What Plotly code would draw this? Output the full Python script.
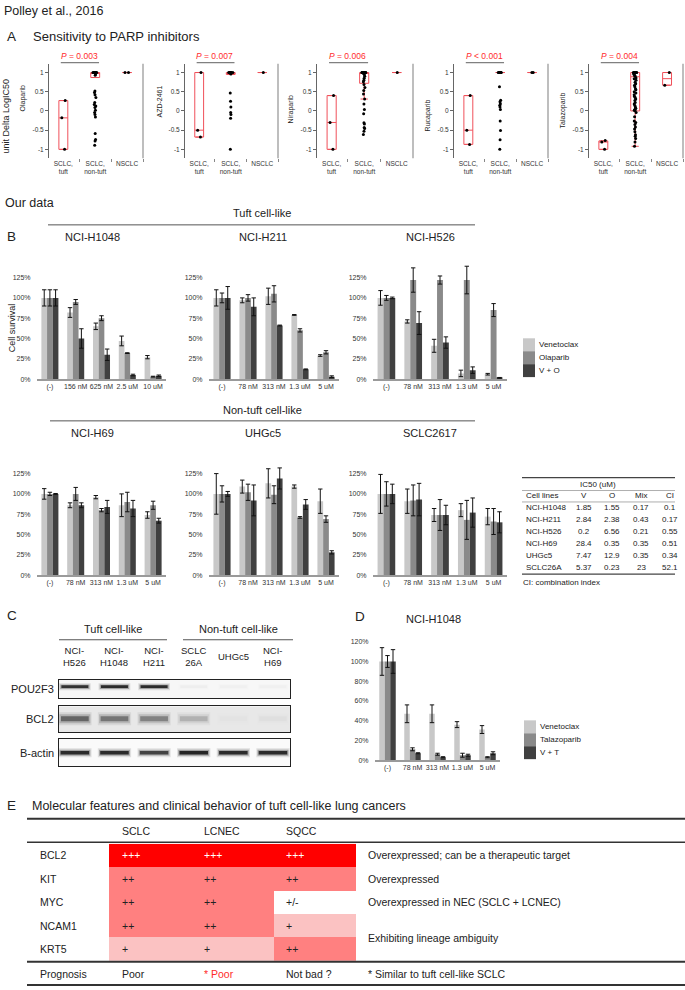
import plotly.graph_objects as go

W, H = 685, 990
FONT = "Liberation Sans, Arial, Helvetica, sans-serif"

# ======================= DATA =======================
# ---- Panel A (Polley et al., 2016): unit Delta LogIC50
a_groups = ["SCLC,<br>tuft", "SCLC,<br>non-tuft", "NSCLC"]
a_drugs = ["Olaparib", "AZD-2461", "Niraparib", "Rucaparib", "Talazoparib"]
a_pvalues = ["= 0.003", "= 0.007", "= 0.006", "< 0.001", "= 0.004"]
a_yticks = [-1, -0.5, 0, 0.5, 1]

olaparib_tuft = [0.27, -0.18, -1.0]
olaparib_nontuft = [1, 1, 1, 1, 1, 1, 1, 1, 1, 1, 0.97, 0.93, 0.52, 0.48, 0.42, 0.35, 0.22,
                    0.17, 0.13, 0.09, 0.02, -0.04, -0.09, -0.16, -0.59, -0.74, -0.78, -0.89]
olaparib_nsclc = [1, 1]
olaparib_q1 = [-1.0, 0.87, 1.0]
olaparib_med = [-0.18, 1.0, 1.0]
olaparib_q3 = [0.27, 1.0, 1.0]
olaparib_lo = [-1.0, 0.87, 1.0]
olaparib_hi = [0.27, 1.0, 1.0]

azd_tuft = [1.0, -0.5, -0.68]
azd_nontuft = [1, 1, 1, 1, 1, 1, 1, 1, 0.98, 0.96, 0.47, 0.25, 0.1, -0.04, -0.09, -0.19, -1.0]
azd_nsclc = [1]
azd_q1 = [-0.68, 0.95, 1.0]
azd_med = [-0.5, 1.0, 1.0]
azd_q3 = [1.0, 1.0, 1.0]
azd_lo = [-0.68, 0.95, 1.0]
azd_hi = [1.0, 1.0, 1.0]

niraparib_tuft = [0.4, -0.3, -1.0]
niraparib_nontuft = [1, 1, 1, 1, 1, 1, 1, 1, 1, 1, 0.97, 0.95, 0.9, 0.85, 0.8, 0.76, 0.69, 0.61,
                     0.53, 0.44, 0.31, 0.18, 0.04, -0.07, -0.31, -0.34, -0.43, -0.46, -0.53, -0.61]
niraparib_nsclc = [1]
niraparib_q1 = [-1.0, 0.72, 1.0]
niraparib_med = [-0.3, 0.98, 1.0]
niraparib_q3 = [0.4, 1.0, 1.0]
niraparib_lo = [-1.0, 0.31, 1.0]
niraparib_hi = [0.4, 1.0, 1.0]

rucaparib_tuft = [0.4, -0.5, -0.87]
rucaparib_nontuft = [1, 1, 1, 1, 1, 1, 1, 1, 1, 1, 1, 1, 0.63, 0.28, 0.24, 0.19, 0.15, 0.1,
                     0.04, -0.26, -0.51, -0.75, -1.0]
rucaparib_nsclc = [1, 1]
rucaparib_q1 = [-0.87, 1.0, 1.0]
rucaparib_med = [-0.5, 1.0, 1.0]
rucaparib_q3 = [0.4, 1.0, 1.0]
rucaparib_lo = [-0.87, 1.0, 1.0]
rucaparib_hi = [0.4, 1.0, 1.0]

talazoparib_tuft = [-0.77, -0.81, -1.0]
talazoparib_nontuft = [1, 1, 1, 1, 1, 1, 1, 0.98, 0.96, 0.93, 0.9, 0.86, 0.84, 0.8, 0.75, 0.71,
                       0.67, 0.63, 0.58, 0.55, 0.5, 0.47, 0.42, 0.38, 0.35, 0.31, 0.27, 0.22,
                       0.18, 0.14, 0.1, 0.07, 0.05, 0.03, 0.02, 0.01, -0.04, -0.15, -0.26,
                       -0.3, -0.35, -0.42, -0.47, -0.54, -0.62, -0.66, -0.72, -0.81, -0.92]
talazoparib_nsclc = [1.0, 0.67]
talazoparib_q1 = [-1.0, 0.0, 0.67]
talazoparib_med = [-0.81, 0.89, 0.84]
talazoparib_q3 = [-0.78, 1.0, 1.0]
talazoparib_lo = [-1.0, -0.92, 0.67]
talazoparib_hi = [-0.78, 1.0, 1.0]

# ---- Panel B: cell survival (%)
b_series = ["Venetoclax", "Olaparib", "V + O"]
doses_h1048 = ["(-)", "156 nM", "625 nM", "2.5 uM", "10 uM"]
doses_std = ["(-)", "78 nM", "313 nM", "1.3 uM", "5 uM"]
b_yticks = [0, 25, 50, 75, 100, 125]

h1048_v = [100, 82, 65, 47, 27];   h1048_v_err = [10, 6, 4, 6, 2]
h1048_o = [100, 95, 75, 32, 3];    h1048_o_err = [10, 3, 3, 0.5, 0.5]
h1048_vo = [100, 50, 30, 5, 4];    h1048_vo_err = [10, 12, 7, 1, 1]

h211_v = [100, 97, 102, 79, 29];   h211_v_err = [10, 3, 10, 0.5, 1]
h211_o = [100, 100, 105, 60, 33];  h211_o_err = [6, 4, 10, 2, 2]
h211_vo = [100, 89, 66, 12, 3];    h211_vo_err = [14, 11, 0.5, 0.5, 1]

h526_v = [100, 71, 41, 7, 6];      h526_v_err = [9, 2, 8, 4, 1]
h526_o = [100, 122, 122, 122, 85]; h526_o_err = [3, 15, 5, 17, 8]
h526_vo = [100, 69, 45, 11, 1.5];  h526_vo_err = [1, 14, 7, 4, 0.5]

h69_v = [100, 86, 96, 86, 74];     h69_v_err = [6.5, 3, 2, 14, 4]
h69_o = [100, 100, 80, 90, 86];    h69_o_err = [2, 8, 2, 12, 5]
h69_vo = [100, 86, 84, 82, 67];    h69_vo_err = [0.5, 3, 8, 10, 3]

uhgc5_v = [100, 109, 113, 109, 91];  uhgc5_v_err = [25, 8, 18, 2, 15]
uhgc5_o = [100, 102, 99, 71, 69];    uhgc5_o_err = [10, 10, 11, 1, 4]
uhgc5_vo = [100, 92, 119, 87, 28];   uhgc5_vo_err = [3, 19, 13, 6, 2]

sclc2617_v = [100, 91, 74, 80, 72];  sclc2617_v_err = [24, 15, 8, 8, 10]
sclc2617_o = [100, 92, 74, 68, 66];  sclc2617_o_err = [15, 19, 19, 24, 16]
sclc2617_vo = [100, 93, 74, 77, 65]; sclc2617_vo_err = [12, 20, 12, 18, 13]

# ---- IC50 table
ic50_cells = ["NCI-H1048", "NCI-H211", "NCI-H526", "NCI-H69", "UHGc5", "SCLC26A"]
ic50_v = ["1.85", "2.84", "0.2", "28.4", "7.47", "5.37"]
ic50_o = ["1.55", "2.38", "6.56", "0.35", "12.9", "0.23"]
ic50_mix = ["0.17", "0.43", "0.21", "0.35", "0.35", "23"]
ic50_ci = ["0.1", "0.17", "0.55", "0.51", "0.34", "52.1"]

# ---- Panel C: western blot band intensities (0-1)
c_lanes = ["NCI-<br>H526", "NCI-<br>H1048", "NCI-<br>H211", "SCLC<br>26A", "UHGc5", "NCI-<br>H69"]
c_proteins = ["POU2F3", "BCL2", "B-actin"]
pou2f3_band = [0.9, 0.95, 0.95, 0.03, 0.02, 0.02]
bcl2_band = [0.85, 0.72, 0.62, 0.3, 0.02, 0.04]
bactin_band = [0.95, 0.95, 0.8, 1.0, 0.95, 0.95]

# ---- Panel D: NCI-H1048 venetoclax + talazoparib
d_series = ["Venetoclax", "Talazoparib", "V + T"]
d_yticks = [0, 20, 40, 60, 80, 100, 120]
d_v = [100, 47, 47, 36, 31];   d_v_err = [14, 9, 9, 3, 4]
d_t = [100, 11, 6, 5, 3];      d_t_err = [6, 1.5, 1, 2, 0.5]
d_vt = [100, 7, 3, 5, 7];      d_vt_err = [12, 0.5, 0.5, 1, 1.5]

# ---- Panel E
e_types = ["SCLC", "LCNEC", "SQCC"]
e_genes = ["BCL2", "KIT", "MYC", "NCAM1", "KRT5"]
e_levels = [[3, 3, 3], [2, 2, 2], [2, 2, 0], [2, 2, 1], [1, 1, 2]]
e_symbols = [["+++", "+++", "+++"], ["++", "++", "++"], ["++", "++", "+/-"],
             ["++", "++", "+"], ["+", "+", "++"]]
e_notes = ["Overexpressed; can be a therapeutic target", "Overexpressed",
           "Overexpressed in NEC (SCLC + LCNEC)"]
e_note_shared = "Exhibiting lineage ambiguity"
e_prognosis = ["Poor", "* Poor", "Not bad ?"]
e_prognosis_note = "* Similar to tuft cell-like SCLC"

# ======================= STYLE =======================
RED_TXT = "#ff2b2b"
RED_BOX = "#f0505a"
C_V, C_O, C_VO = "#c8c8c8", "#8a8a8a", "#404040"
TXT = "#222222"


def fx(x):
    return x / W


def fy(y):
    return 1 - y / H


def names(n):
    s = "" if n == 1 else str(n)
    return "xaxis" + s, "yaxis" + s, "x" + s, "y" + s


fig = go.Figure()
layout = dict(width=W, height=H, margin=dict(l=0, r=0, t=0, b=0),
              paper_bgcolor="white", plot_bgcolor="white",
              font=dict(family=FONT, color=TXT, size=10), showlegend=False,
              barmode="group", bargap=0.34, bargroupgap=0, boxmode="overlay")
shapes, annotations = [], []


def text(x, y, s, size, color=TXT, xanchor="center", yanchor="middle",
         xref="paper", yref="paper", angle=0):
    annotations.append(dict(x=x, y=y, xref=xref, yref=yref, text=s, showarrow=False,
                            xanchor=xanchor, yanchor=yanchor, textangle=angle,
                            font=dict(size=size, color=color, family=FONT)))


def ptext(xp, yp, s, size, **kw):
    text(fx(xp), fy(yp), s, size, **kw)


def hline(x0, x1, y, color="#555", width=1):
    shapes.append(dict(type="line", xref="paper", yref="paper", x0=fx(x0), x1=fx(x1),
                       y0=fy(y), y1=fy(y), line=dict(color=color, width=width)))


def rect(x0, x1, y0, y1, color):
    shapes.append(dict(type="rect", xref="paper", yref="paper", x0=fx(x0), x1=fx(x1),
                       y0=fy(y1), y1=fy(y0), line=dict(width=0), fillcolor=color))


# ======================= PANEL A =======================
ptext(2, 9, "Polley et al., 2016", 12.5, xanchor="left")
ptext(5, 35, "A", 13.5, xanchor="left")
ptext(31, 35, "Sensitivity to PARP inhibitors", 13, xanchor="left")
ptext(6, 115, "unit Delta LogIC50", 9, angle=-90)

a_points = [
    [olaparib_tuft, olaparib_nontuft, olaparib_nsclc],
    [azd_tuft, azd_nontuft, azd_nsclc],
    [niraparib_tuft, niraparib_nontuft, niraparib_nsclc],
    [rucaparib_tuft, rucaparib_nontuft, rucaparib_nsclc],
    [talazoparib_tuft, talazoparib_nontuft, talazoparib_nsclc],
]
a_boxes = [
    (olaparib_q1, olaparib_med, olaparib_q3, olaparib_lo, olaparib_hi),
    (azd_q1, azd_med, azd_q3, azd_lo, azd_hi),
    (niraparib_q1, niraparib_med, niraparib_q3, niraparib_lo, niraparib_hi),
    (rucaparib_q1, rucaparib_med, rucaparib_q3, rucaparib_lo, rucaparib_hi),
    (talazoparib_q1, talazoparib_med, talazoparib_q3, talazoparib_lo, talazoparib_hi),
]
A_LEFT = [49, 185, 317, 454, 589]
A_RIGHT = [143, 278, 413, 548, 683]
A_TITLE_Y = [97, 100, 108, 114, 109]

for i in range(5):
    n = i + 1
    xa, ya, xr, yr = names(n)
    layout[xa] = dict(domain=[fx(A_LEFT[i]), fx(A_RIGHT[i])], anchor=yr, type="category",
                      categoryorder="array", categoryarray=a_groups, range=[-0.45, 2.5],
                      tickson="boundaries", ticks="outside", ticklen=3, tickcolor="#888",
                      showline=False, showgrid=False, zeroline=False,
                      tickfont=dict(size=6.5, color="#333"))
    layout[ya] = dict(domain=[fy(157), fy(62)], anchor=xr, range=[-1.23, 1.23],
                      tickvals=a_yticks, ticktext=[f"{v:g}" for v in a_yticks],
                      ticks="outside", ticklen=3, tickcolor="#666", showline=True,
                      linecolor="#666", linewidth=1, showgrid=False, zeroline=False,
                      tickfont=dict(size=6.5, color="#333"))
    q1, med, q3, lo, hi = a_boxes[i]
    fig.add_trace(go.Box(x=a_groups, q1=q1, median=med, q3=q3, lowerfence=lo, upperfence=hi,
                         width=0.28, whiskerwidth=0.8, boxpoints=False,
                         line=dict(color=RED_BOX, width=1), fillcolor="rgba(0,0,0,0)",
                         xaxis=xr, yaxis=yr, hoverinfo="skip"))
    xs, ys = [], []
    for g, vals in zip(a_groups, a_points[i]):
        xs += [g] * len(vals)
        ys += vals
    fig.add_trace(go.Box(x=xs, y=ys, boxpoints="all", jitter=0.5, pointpos=0, width=0.3,
                         line=dict(width=0, color="rgba(0,0,0,0)"), fillcolor="rgba(0,0,0,0)",
                         marker=dict(color="black", size=3), xaxis=xr, yaxis=yr,
                         hoverinfo="skip"))
    ptext(A_LEFT[i] - 26, A_TITLE_Y[i], a_drugs[i], 7, angle=-90)
    text(0.5, fy(54), "<i>P</i> " + a_pvalues[i].replace("<", "&lt;"), 8.5, color=RED_TXT,
         xref=xr)
    shapes.append(dict(type="line", xref=xr, yref="paper", x0=-0.08, x1=1.12,
                       y0=fy(61), y1=fy(61), line=dict(color="#808080", width=1.3)))
    shapes.append(dict(type="line", xref="paper", yref="paper", x0=fx(A_RIGHT[i]),
                       x1=fx(A_RIGHT[i]), y0=fy(157), y1=fy(62),
                       line=dict(color="#a8a8a8", width=1.5)))

# ======================= PANEL B =======================
ptext(3, 202, "Our data", 12.5, xanchor="left")
ptext(262, 212, "Tuft cell-like", 11)
hline(48, 475, 224, "#555", 1)
ptext(5, 236, "B", 13.5, xanchor="left")
ptext(262, 410, "Non-tuft cell-like", 11)
hline(50, 475, 421, "#555", 1)
ptext(12, 328, "Cell survival", 9, angle=-90)

b_charts = [
    ("NCI-H1048", doses_h1048, [(h1048_v, h1048_v_err), (h1048_o, h1048_o_err), (h1048_vo, h1048_vo_err)]),
    ("NCI-H211", doses_std, [(h211_v, h211_v_err), (h211_o, h211_o_err), (h211_vo, h211_vo_err)]),
    ("NCI-H526", doses_std, [(h526_v, h526_v_err), (h526_o, h526_o_err), (h526_vo, h526_vo_err)]),
    ("NCI-H69", doses_std, [(h69_v, h69_v_err), (h69_o, h69_o_err), (h69_vo, h69_vo_err)]),
    ("UHGc5", doses_std, [(uhgc5_v, uhgc5_v_err), (uhgc5_o, uhgc5_o_err), (uhgc5_vo, uhgc5_vo_err)]),
    ("SCLC2617", doses_std, [(sclc2617_v, sclc2617_v_err), (sclc2617_o, sclc2617_o_err), (sclc2617_vo, sclc2617_vo_err)]),
]
B_X = [(37, 166), (209, 339), (373, 507)]
B_TITLE_X = [92, 263, 430]
B_ROWS = [(379, 236), (576, 433)]  # (0% pixel, title pixel)
B_PX_PER = 102 / 125.0
B_TOP = 145


def bar_axes(n, xdom, y0px, ymax, pxper, tickvals):
    xa, ya, xr, yr = names(n)
    layout[xa] = dict(domain=[fx(xdom[0]), fx(xdom[1])], anchor=yr, type="category",
                      showline=True, linecolor="#9a9a9a", linewidth=1.5, ticks="",
                      showgrid=False, zeroline=False, tickfont=dict(size=7, color="#333"))
    layout[ya] = dict(domain=[fy(y0px), fy(y0px - ymax * pxper)], anchor=xr,
                      range=[0, ymax], tickvals=tickvals,
                      ticktext=[f"{v}%" for v in tickvals], showline=False, showgrid=False,
                      zeroline=False, ticks="outside", ticklen=4, tickcolor="rgba(0,0,0,0)",
                      tickfont=dict(size=7, color="#333"))
    return xr, yr


for k, (title, doses, ser) in enumerate(b_charts):
    n = 6 + k
    row, col = divmod(k, 3)
    y0px, ytitle = B_ROWS[row]
    xr, yr = bar_axes(n, B_X[col], y0px, B_TOP, B_PX_PER, b_yticks)
    for (vals, errs), name, colr in zip(ser, b_series, [C_V, C_O, C_VO]):
        fig.add_trace(go.Bar(x=doses, y=vals, name=name, marker=dict(color=colr, line=dict(width=0)),
                             error_y=dict(type="data", array=errs, color="#111", thickness=1, width=2.2),
                             xaxis=xr, yaxis=yr, hoverinfo="skip"))
    ptext(B_TITLE_X[col], ytitle, title, 11)

for j, (name, colr) in enumerate(zip(b_series, [C_V, C_O, C_VO])):
    rect(523, 535, 338 + 13 * j, 351 + 13 * j, colr)
    ptext(537, 344.5 + 13 * j, name, 8, xanchor="left")

# IC50 table
hline(522, 675, 478, "#444", 1.3)
ptext(598, 485, "IC50 (uM)", 8)
hline(522, 675, 491, "#999", 0.8)
ptext(524, 496.5, "Cell lines", 8, xanchor="left")
for xc, h in zip([584, 612, 641, 670], ["V", "O", "Mix", "CI"]):
    ptext(xc, 496.5, h, 8)
hline(522, 675, 502.5, "#999", 0.8)
for r in range(len(ic50_cells)):
    yy = 508.5 + 12 * r
    ptext(524, yy, ic50_cells[r], 8, xanchor="left")
    for xc, arr in zip([584, 612, 641, 670], [ic50_v, ic50_o, ic50_mix, ic50_ci]):
        ptext(xc, yy, arr[r], 8)
hline(522, 675, 575, "#444", 1.3)
ptext(521, 583, "CI: combination index", 8, xanchor="left")

# ======================= PANEL D =======================
ptext(353, 618, "D", 13.5, xanchor="left")
ptext(433, 620, "NCI-H1048", 11)
xr, yr = bar_axes(12, (375, 500), 762, 122, 119 / 120.0, d_yticks)
for (vals, errs), name, colr in zip([(d_v, d_v_err), (d_t, d_t_err), (d_vt, d_vt_err)],
                                     d_series, [C_V, C_O, C_VO]):
    fig.add_trace(go.Bar(x=doses_std, y=vals, name=name, marker=dict(color=colr, line=dict(width=0)),
                         error_y=dict(type="data", array=errs, color="#111", thickness=1, width=2.2),
                         xaxis=xr, yaxis=yr, hoverinfo="skip"))
for j, (name, colr) in enumerate(zip(d_series, [C_V, C_O, C_VO])):
    rect(524, 536, 722 + 13 * j, 735 + 13 * j, colr)
    ptext(538, 728.5 + 13 * j, name, 8, xanchor="left")

# ======================= PANEL C =======================
ptext(5, 617, "C", 13.5, xanchor="left")
ptext(113, 630, "Tuft cell-like", 11)
hline(59, 167, 641, "#555", 1)
ptext(238, 630, "Non-tuft cell-like", 11)
hline(183, 293, 641, "#555", 1)

C_BOX = [(681, 700), (708, 734), (741, 768)]
C_BG = ["#f7f7f7", "#e8e8e8", "#fafafa"]
C_BAND_Y = [0.25, 0.05, 0.0]
C_LAYERS = [  # (half-length, width, alpha factor)
    [(0.40, 7.0, 0.12), (0.37, 4.5, 0.30), (0.34, 2.8, 0.85)],
    [(0.42, 13.0, 0.10), (0.39, 9.0, 0.22), (0.35, 5.0, 0.55)],
    [(0.42, 9.0, 0.12), (0.39, 6.0, 0.30), (0.36, 3.6, 0.85)],
]
c_bands = [pou2f3_band, bcl2_band, bactin_band]
for r in range(3):
    n = 13 + r
    xa, ya, xr, yr = names(n)
    y_top, y_bot = C_BOX[r]
    layout[xa] = dict(domain=[fx(59), fx(290)], anchor=yr, range=[-0.4, 5.43], showline=True,
                      mirror=True, linecolor="#222", linewidth=1, ticks="", showticklabels=False,
                      showgrid=False, zeroline=False)
    layout[ya] = dict(domain=[fy(y_bot), fy(y_top)], anchor=xr, range=[-1, 1], showline=True,
                      mirror=True, linecolor="#222", linewidth=1, ticks="", showticklabels=False,
                      showgrid=False, zeroline=False)
    shapes.append(dict(type="rect", xref=xr + " domain", yref=yr + " domain", x0=0, x1=1,
                       y0=0, y1=1, fillcolor=C_BG[r], line=dict(width=0), layer="below"))
    for lane, a in enumerate(c_bands[r]):
        yb = C_BAND_Y[r]
        for half, wid, af in C_LAYERS[r]:
            fig.add_trace(go.Scatter(x=[lane - half, lane + half], y=[yb, yb], mode="lines",
                                     line=dict(color=f"rgba(15,15,15,{a * af:.3f})", width=wid),
                                     xaxis=xr, yaxis=yr, hoverinfo="skip"))
    ptext(56, (y_top + y_bot) / 2, c_proteins[r], 11, xanchor="right")
for lane, lab in enumerate(c_lanes):
    text(lane, fy(658), lab, 9.5, xref="x13")

# ======================= PANEL E =======================
ptext(5, 808, "E", 13.5, xanchor="left")
ptext(30, 808, "Molecular features and clinical behavior of tuft cell-like lung cancers", 12.5,
      xanchor="left")
hline(27, 685, 821, "#333", 2)
hline(27, 685, 844.5, "#333", 1.5)
hline(27, 685, 964.5, "#333", 2)
hline(27, 685, 988, "#333", 2)

xa, ya, xr, yr = names(16)
layout[xa] = dict(domain=[fx(109), fx(356)], anchor=yr, type="category", categoryorder="array",
                  categoryarray=e_types, showticklabels=False, ticks="", showline=False,
                  showgrid=False, zeroline=False)
layout[ya] = dict(domain=[fy(964), fy(846)], anchor=xr, type="category", categoryorder="array",
                  categoryarray=e_genes, autorange="reversed", showticklabels=False, ticks="",
                  showline=False, showgrid=False, zeroline=False)
fig.add_trace(go.Heatmap(x=e_types, y=e_genes, z=e_levels, zmin=0, zmax=3, showscale=False,
                         colorscale=[[0, "#ffffff"], [0.1667, "#ffffff"], [0.1667, "#fbc2c2"],
                                     [0.5, "#fbc2c2"], [0.5, "#ff8080"], [0.8333, "#ff8080"],
                                     [0.8333, "#ff0000"], [1, "#ff0000"]],
                         xgap=0, ygap=0, hoverinfo="skip", xaxis=xr, yaxis=yr))
for j, t in enumerate(e_types):
    text(j - 0.37, fy(833), t, 10.5, xref=xr, xanchor="left")
for i, g in enumerate(e_genes):
    text(fx(38), g, g, 10.5, yref=yr, xanchor="left")
    for j in range(3):
        colr = "white" if e_levels[i][j] == 3 else TXT
        text(j - 0.37, g, e_symbols[i][j], 10.5, color=colr, xref=xr, yref=yr, xanchor="left")
for i, note in enumerate(e_notes):
    text(fx(366), e_genes[i], note, 10.5, yref=yr, xanchor="left")
ptext(366, 941, e_note_shared, 10.5, xanchor="left")
ptext(38, 977, "Prognosis", 10.5, xanchor="left")
for j, p in enumerate(e_prognosis):
    text(j - 0.37, fy(977), p, 10.5, color=(RED_TXT if p.startswith("*") else TXT),
         xref=xr, xanchor="left")
ptext(366, 977, e_prognosis_note, 10.5, xanchor="left")

layout["shapes"] = shapes
layout["annotations"] = annotations
fig.update_layout(**layout)
fig.write_html("out.html", config={"displayModeBar": False},
               post_script="document.body.style.margin='0px';document.body.style.overflow='hidden';")
